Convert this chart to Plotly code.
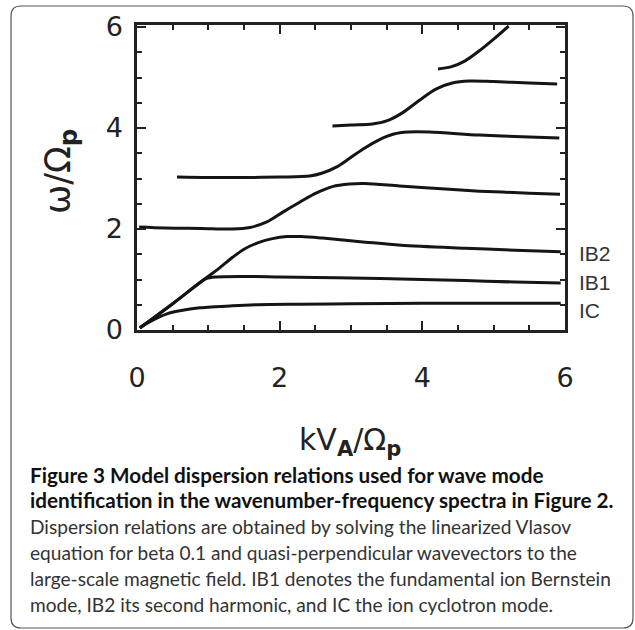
import plotly.graph_objects as go

# ---- data ----
ic_k = [0.04, 0.15, 0.3, 0.42, 0.6, 0.88, 1.0, 1.34, 1.7, 2.28, 3.0, 4.0, 5.0, 5.94]
ic_w = [0.05, 0.14, 0.25, 0.32, 0.38, 0.44, 0.45, 0.48, 0.50, 0.51, 0.52, 0.53, 0.53, 0.53]

ib1_k = [0.04, 0.5, 0.9, 0.97, 1.1, 1.5, 2.0, 2.5, 3.0, 3.7, 4.6, 5.3, 5.94]
ib1_w = [0.04, 0.52, 0.96, 1.02, 1.05, 1.06, 1.05, 1.04, 1.03, 1.01, 0.98, 0.95, 0.93]

ib2_k = [0.04, 0.5, 0.97, 1.15, 1.34, 1.5, 1.7, 1.9, 2.1, 2.3, 2.6, 3.2, 3.7, 4.6, 5.3, 5.94]
ib2_w = [0.04, 0.52, 1.03, 1.22, 1.44, 1.6, 1.73, 1.81, 1.85, 1.85, 1.82, 1.74, 1.68, 1.62, 1.58, 1.55]

m2_k = [0.03, 0.4, 0.9, 1.34, 1.58, 1.82, 2.05, 2.28, 2.51, 2.74, 2.98, 3.2, 3.68, 4.1, 4.8, 5.5, 5.93]
m2_w = [2.04, 2.02, 2.01, 2.0, 2.03, 2.14, 2.34, 2.53, 2.71, 2.84, 2.89, 2.9, 2.85, 2.81, 2.75, 2.71, 2.69]

m3_k = [0.56, 1.0, 1.5, 2.0, 2.42, 2.6, 2.8, 3.0, 3.2, 3.4, 3.6, 3.8, 4.1, 4.8, 5.5, 5.92]
m3_w = [3.03, 3.02, 3.02, 3.03, 3.05, 3.11, 3.23, 3.42, 3.61, 3.77, 3.88, 3.92, 3.92, 3.86, 3.82, 3.8]

m4_k = [2.74, 3.0, 3.3, 3.5, 3.72, 3.96, 4.19, 4.42, 4.66, 5.0, 5.5, 5.89]
m4_w = [4.04, 4.06, 4.08, 4.14, 4.3, 4.55, 4.77, 4.89, 4.93, 4.92, 4.89, 4.87]

m5_k = [4.22, 4.4, 4.6, 4.8, 5.0, 5.21]
m5_w = [5.17, 5.21, 5.33, 5.53, 5.76, 6.02]

curves = [(ic_k, ic_w), (ib1_k, ib1_w), (ib2_k, ib2_w), (m2_k, m2_w),
          (m3_k, m3_w), (m4_k, m4_w), (m5_k, m5_w)]

mode_labels = ["IB2", "IB1", "IC"]
mode_label_w = [1.52, 0.95, 0.38]

tick_vals = [0, 2, 4, 6]
tick_text = ["0", "2", "4", "6"]

caption_bold = ["Figure 3 Model dispersion relations used for wave mode",
                "identification in the wavenumber-frequency spectra in Figure 2."]
caption_plain = ["Dispersion relations are obtained by solving the linearized Vlasov",
                 "equation for beta 0.1 and quasi-perpendicular wavevectors to the",
                 "large-scale magnetic field. IB1 denotes the fundamental ion Bernstein",
                 "mode, IB2 its second harmonic, and IC the ion cyclotron mode."]

# ---- layout geometry (pixels) ----
W, H = 635, 630
L, R, T, B = 137, 70, 25, 300
pw, ph = W - L - R, H - T - B

def px(xp):
    return (xp - L) / pw

def py(yp):
    return (H - B - yp) / ph

fig = go.Figure()
for k, w in curves:
    fig.add_trace(go.Scatter(x=k, y=w, mode="lines",
                             line=dict(color="#151515", width=3, shape="spline", smoothing=0.9),
                             showlegend=False, hoverinfo="skip"))

axis_common = dict(
    showgrid=False, zeroline=False,
    showline=True, linecolor="#222", linewidth=2.5, mirror="ticks",
    ticks="inside", ticklen=9, tickwidth=2, tickcolor="#222",
    tickvals=tick_vals, ticktext=tick_text,
    tickfont=dict(family="DejaVu Sans", size=27, color="#222"),
    minor=dict(dtick=0.5, ticks="inside", ticklen=5, tickwidth=2, tickcolor="#222"),
)

fig.update_xaxes(range=[0, 6], ticklabelstandoff=22, **axis_common)
fig.update_yaxes(range=[0, 6.04], ticklabelstandoff=6, **axis_common)

ann = []
for lab, wv in zip(mode_labels, mode_label_w):
    ann.append(dict(text=lab, xref="paper", yref="y", x=px(577), y=wv,
                    xanchor="left", yanchor="middle", showarrow=False,
                    font=dict(family="Liberation Sans", size=21, color="#333")))

ann.append(dict(text="ω/Ω<sub><b>p</b></sub>", textangle=-90, xref="paper", yref="paper",
                x=px(60), y=py(172), xanchor="center", yanchor="middle", showarrow=False,
                font=dict(family="DejaVu Sans", size=35, color="#222")))
ann.append(dict(text="kV<sub><b>A</b></sub>/Ω<sub><b>p</b></sub>", xref="paper", yref="paper",
                x=px(350), y=py(442), xanchor="center", yanchor="middle", showarrow=False,
                font=dict(family="DejaVu Sans", size=30, color="#222")))

line_y = [475, 500, 526, 552, 578, 604]
for i, t in enumerate(caption_bold):
    ann.append(dict(text="<b>" + t + "</b>", xref="paper", yref="paper",
                    x=px(28), y=py(line_y[i]), xanchor="left", yanchor="middle",
                    showarrow=False, font=dict(family="Lato", size=20.7, color="#111")))
for j, t in enumerate(caption_plain):
    ann.append(dict(text=t, xref="paper", yref="paper",
                    x=px(28), y=py(line_y[2 + j]), xanchor="left", yanchor="middle",
                    showarrow=False, font=dict(family="Lato", size=19.1, color="#333")))

# rounded outer frame
x0, x1, y0, y1, r = 11, 633, 6, 628, 10
def P(a, b):
    return f"{px(a):.5f},{py(b):.5f}"
path = (f"M {P(x0 + r, y0)} L {P(x1 - r, y0)} Q {P(x1, y0)} {P(x1, y0 + r)} "
        f"L {P(x1, y1 - r)} Q {P(x1, y1)} {P(x1 - r, y1)} "
        f"L {P(x0 + r, y1)} Q {P(x0, y1)} {P(x0, y1 - r)} "
        f"L {P(x0, y0 + r)} Q {P(x0, y0)} {P(x0 + r, y0)} Z")

fig.update_layout(
    width=W, height=H, margin=dict(l=L, r=R, t=T, b=B),
    paper_bgcolor="white", plot_bgcolor="white",
    annotations=ann,
    shapes=[dict(type="path", path=path, xref="paper", yref="paper",
                 line=dict(color="#555", width=1.2), layer="below")],
)

fig.write_html("out.html")
